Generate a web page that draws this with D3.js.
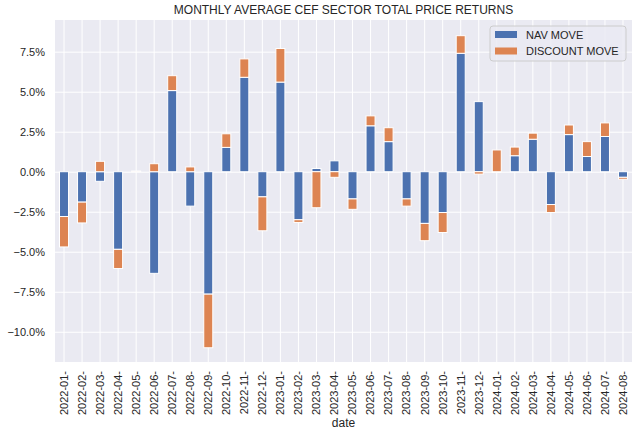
<!DOCTYPE html>
<html><head><meta charset="utf-8">
<script src="https://cdn.jsdelivr.net/npm/d3@7"></script>
<style>body{margin:0;background:#fff}svg{display:block}text{font-family:"Liberation Sans",Arial,sans-serif;fill:#262626}</style>
</head><body>
<script>
const categories = ["2022-01-","2022-02-","2022-03-","2022-04-","2022-05-","2022-06-","2022-07-","2022-08-","2022-09-","2022-10-","2022-11-","2022-12-",
"2023-01-","2023-02-","2023-03-","2023-04-","2023-05-","2023-06-","2023-07-","2023-08-","2023-09-","2023-10-","2023-11-","2023-12-",
"2024-01-","2024-02-","2024-03-","2024-04-","2024-05-","2024-06-","2024-07-","2024-08-"];
const navMove = [-2.8,-1.9,-0.6,-4.85,0.02,-6.35,5.07,-2.15,-7.65,1.52,5.9,-1.57,
 5.6,-3.0,0.2,0.68,-1.7,2.87,1.88,-1.7,-3.23,-2.55,7.4,4.38,
 -0.05,1.0,2.03,-2.05,2.32,0.95,2.2,-0.35];
const discountMove = [-1.9,-1.3,0.65,-1.2,0.02,0.5,0.93,0.3,-3.35,0.85,1.15,-2.12,
 2.1,-0.17,-2.25,-0.35,-0.65,0.62,0.87,-0.45,-1.08,-1.25,1.1,-0.15,
 1.36,0.54,0.38,-0.5,0.6,0.93,0.85,-0.12];
const seriesNames = ["NAV MOVE","DISCOUNT MOVE"];
const colors = ["#4c72b0","#dd8452"];
const yTicks = [-10,-7.5,-5,-2.5,0,2.5,5,7.5];

const W=639,H=432, m={l:55,r:7,t:20,b:70};
const svg=d3.select("body").append("svg").attr("width",W).attr("height",H);
const x=d3.scaleBand().domain(categories).range([m.l,W-m.r]).paddingInner(0.5).paddingOuter(0.25);
const y=d3.scaleLinear().domain([-11.89,9.48]).range([H-m.b,m.t]);

svg.append("rect").attr("x",m.l).attr("y",m.t).attr("width",W-m.l-m.r).attr("height",H-m.t-m.b).attr("fill","#eaeaf2");
// grid
const gx=svg.append("g").attr("transform",`translate(0,${H-m.b})`)
 .call(d3.axisBottom(x).tickSize(-(H-m.t-m.b)).tickPadding(6).tickFormat(d=>d));
gx.select(".domain").remove();
gx.selectAll("line").attr("stroke","#fff").attr("stroke-width",1);
gx.selectAll("text").attr("transform","rotate(-90)").attr("text-anchor","end")
 .attr("x",-9).attr("y",0).attr("dy","0.35em").style("font-size","11px").attr("fill","#262626");
const gy=svg.append("g").attr("transform",`translate(${m.l},0)`)
 .call(d3.axisLeft(y).tickValues(yTicks).tickSize(-(W-m.l-m.r)).tickPadding(10)
 .tickFormat(d=>(d<0?"\u2212":"")+Math.abs(d).toFixed(1)+"%"));
gy.select(".domain").remove();
gy.selectAll("line").attr("stroke","#fff").attr("stroke-width",1);
gy.selectAll("text").style("font-size","11px").attr("fill","#262626");

// stacked bars (pandas style: positives and negatives stack separately)
const bars=svg.append("g");
categories.forEach((c,i)=>{
  let pos=0,neg=0;
  [navMove[i],discountMove[i]].forEach((v,k)=>{
    let y0,y1;
    if(v>=0){y0=pos;y1=pos+v;pos=y1;}else{y0=neg;y1=neg+v;neg=y1;}
    bars.append("rect").attr("x",x(c)).attr("width",x.bandwidth())
      .attr("y",y(Math.max(y0,y1))).attr("height",Math.abs(y(y0)-y(y1)))
      .attr("fill",colors[k]).attr("stroke","#fff").attr("stroke-width",1);
  });
});

svg.append("text").attr("x",(m.l+W-m.r)/2).attr("y",14).attr("text-anchor","middle")
 .style("font-size","12px").text("MONTHLY AVERAGE CEF SECTOR TOTAL PRICE RETURNS");
svg.append("text").attr("x",(m.l+W-m.r)/2).attr("y",427).attr("text-anchor","middle")
 .style("font-size","12px").text("date");

// legend
const lg=svg.append("g").attr("transform","translate(490,26)");
lg.append("rect").attr("width",136).attr("height",35).attr("rx",3)
 .attr("fill","#eaeaf2").attr("fill-opacity",0.8).attr("stroke","#cccccc").attr("stroke-width",1);
seriesNames.forEach((n,k)=>{
  lg.append("rect").attr("x",5).attr("y",5+k*16.5).attr("width",22).attr("height",7).attr("fill",colors[k]);
  lg.append("text").attr("x",36).attr("y",12.5+k*16.5).style("font-size","11px").text(n);
});
</script>
</body></html>
